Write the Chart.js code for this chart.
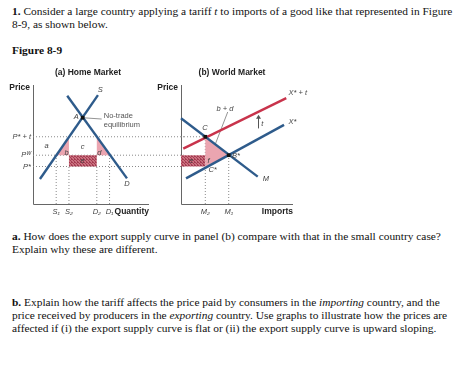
<!DOCTYPE html>
<html>
<head>
<meta charset="utf-8">
<script src="https://cdn.jsdelivr.net/npm/chart.js@4.4.1/dist/chart.umd.min.js"></script>
<style>
  body { margin: 0; width: 474px; height: 378px; background: #fff; position: relative; overflow: hidden;
         font-family: "Liberation Serif", "Times New Roman", serif; color: #111; }
  .ln { position: absolute; left: 12px; font-size: 11.4px; line-height: 13px; white-space: nowrap; }
  canvas { position: absolute; }
</style>
</head>
<body>
<div class="ln" style="top:5px"><b>1.</b> Consider a large country applying a tariff <i>t</i> to imports of a good like that represented in Figure</div>
<div class="ln" style="top:18px">8-9, as shown below.</div>
<div class="ln" style="top:44px"><b>Figure 8-9</b></div>

<canvas id="home" width="185" height="165" style="left:0;top:60px"></canvas>
<canvas id="world" width="170" height="165" style="left:150px;top:60px"></canvas>

<div class="ln" style="top:230px"><b>a.</b> How does the export supply curve in panel (b) compare with that in the small country case?</div>
<div class="ln" style="top:243px">Explain why these are different.</div>
<div class="ln" style="top:296px"><b>b.</b> Explain how the tariff affects the price paid by consumers in the <i>importing</i> country, and the</div>
<div class="ln" style="top:309px">price received by producers in the <i>exporting</i> country. Use graphs to illustrate how the prices are</div>
<div class="ln" style="top:322px">affected if (i) the export supply curve is flat or (ii) the export supply curve is upward sloping.</div>

<script>
// values, both axes in arbitrary units 0-10
const priceLevels = [3.15, 4.1, 5.65];            // P*, P^W, P* + t
const priceLabels = ['P*', 'Pᵂ', 'P* + t'];

// (a) home market
const homeQty = [2.0, 3.1, 5.5, 6.6];             // S1, S2, D2, D1
const homeQtyLabels = ['S₁', 'S₂', 'D₂', 'D₁'];
const homeSupply = [[0.6, 2.1], [5.6, 9.15]];
const homeDemand = [[2.95, 9.1], [8.1, 2.15]];
const noTrade = [4.28, 7.25];

// (b) world market
const importQty = [2.17, 4.26];                   // M2, M1
const importQtyLabels = ['M₂', 'M₁'];
const importDemand = [[0, 7.2], [6.85, 2.3]];
const exportSupply = [[0.45, 2.15], [9.2, 6.65]];
const exportSupplyTariff = [[0.2, 4.65], [9.4, 8.9]];

const BLUE = '#2e5b8b', RED = '#c8334b', PINK = '#eba5b0', GUIDE = '#8a8a8a';
const SANS = '"Liberation Sans", Arial, sans-serif';

const [pStar, pWorld, pTariff] = priceLevels;
const pts = arr => arr.map(([x, y]) => ({ x, y }));

function hatch() {
  const c = document.createElement('canvas');
  c.width = c.height = 3;
  const g = c.getContext('2d');
  g.fillStyle = '#c9707e';
  g.fillRect(0, 0, 3, 3);
  g.fillStyle = '#a53c52';
  g.fillRect(0, 0, 1, 1);
  g.fillRect(1, 1, 1, 1);
  g.fillRect(2, 2, 1, 1);
  g.fillRect(2, 0, 1, 1);
  return g.createPattern(c, 'repeat');
}

const line = (data, color, width, order) => ({
  data: pts(data), borderColor: color, borderWidth: width, pointRadius: 0, fill: false, order, clip: false
});
const guide = data => ({ ...line(data, GUIDE, 1, 20), borderDash: [1, 2] });
const area = (data, color, order) => ({
  data: pts([...data, data[0]]), borderWidth: 0, borderColor: 'transparent', backgroundColor: color,
  pointRadius: 0, fill: 'shape', order
});
const dot = (p, order) => ({
  data: pts([p]), pointRadius: 2.6, pointStyle: 'rect', pointBackgroundColor: '#111', pointBorderWidth: 0,
  showLine: false, order
});

// axes and all the lettering of a panel
const figureText = {
  id: 'figureText',
  beforeDatasetsDraw(chart, args, o) {
    const { ctx, scales: { x, y } } = chart;
    ctx.save();
    ctx.strokeStyle = '#666';
    ctx.lineWidth = 1;
    ctx.beginPath();
    const x0 = Math.round(x.getPixelForValue(0)) + 0.5, y0 = Math.round(y.getPixelForValue(0)) + 0.5;
    ctx.moveTo(x0, y.getPixelForValue(10));
    ctx.lineTo(x0, y0);
    ctx.lineTo(x.getPixelForValue(10), y0);
    ctx.stroke();
    ctx.restore();
  },
  afterDatasetsDraw(chart, args, o) {
    const { ctx, chartArea: a, scales: { x, y } } = chart;
    ctx.save();
    ctx.textBaseline = 'middle';
    // panel title and axis names
    ctx.fillStyle = '#222';
    ctx.font = 'bold 8.5px ' + SANS;
    ctx.textAlign = 'center';
    ctx.fillText(o.title, a.left + o.titleX, a.top - 12);
    ctx.textAlign = 'right';
    ctx.fillText('Price', a.left - 3, a.top + 3);
    ctx.fillText(o.xTitle, x.getPixelForValue(10), a.bottom + 8);
    // tick letters
    ctx.fillStyle = '#444';
    ctx.font = 'italic 7.5px ' + SANS;
    ctx.textAlign = 'center';
    o.ticks.forEach((v, i) => ctx.fillText(o.tickLabels[i], x.getPixelForValue(v), a.bottom + 8));
    if (o.priceAxis) {
      ctx.textAlign = 'right';
      priceLevels.forEach((v, i) => ctx.fillText(priceLabels[i], a.left - 2, y.getPixelForValue(v)));
    }
    // notes inside the plot
    o.notes.forEach(([text, vx, vy, align, font, color]) => {
      ctx.textAlign = align || 'center';
      ctx.font = (font || 'italic 7.5px') + ' ' + SANS;
      ctx.fillStyle = color || '#444';
      ctx.fillText(text, x.getPixelForValue(vx), y.getPixelForValue(vy));
    });
    // tariff arrow
    if (o.arrow) {
      const [ax, ay0, ay1] = o.arrow;
      const px = Math.round(x.getPixelForValue(ax)) + 0.5, py0 = y.getPixelForValue(ay0), py1 = y.getPixelForValue(ay1);
      ctx.strokeStyle = '#555';
      ctx.fillStyle = '#555';
      ctx.lineWidth = 1;
      ctx.beginPath();
      ctx.moveTo(px, py0); ctx.lineTo(px, py1 + 3); ctx.stroke();
      ctx.beginPath();
      ctx.moveTo(px, py1); ctx.lineTo(px - 2.5, py1 + 4); ctx.lineTo(px + 2.5, py1 + 4); ctx.closePath(); ctx.fill();
    }
    ctx.restore();
  }
};

function baseOptions(padding, text) {
  return {
    responsive: false,
    animation: false,
    events: [],
    layout: { padding },
    scales: {
      x: { type: 'linear', min: 0, max: 10, display: false },
      y: { type: 'linear', min: 0, max: 10, display: false }
    },
    elements: { line: { tension: 0 } },
    plugins: { legend: { display: false }, tooltip: { enabled: false }, figureText: text }
  };
}

// (a) Home Market
const [s1, s2, d2, d1] = homeQty;
new Chart(document.getElementById('home'), {
  type: 'line',
  plugins: [figureText],
  data: {
    datasets: [
      ...priceLevels.map(p => guide([[0, p], [13.3, p]])),
      guide([[s1, 0], [s1, pWorld]]),
      guide([[s2, 0], [s2, pStar]]),
      guide([[d2, 0], [d2, pStar]]),
      guide([[d1, 0], [d1, pWorld]]),
      area([[s1, pWorld], [s2, pWorld], [s2, pTariff]], PINK, 8),
      area([[d2, pTariff], [d2, pWorld], [d1, pWorld]], PINK, 8),
      area([[s2, pStar], [d2, pStar], [d2, pWorld], [s2, pWorld]], hatch(), 8),
      line(homeSupply, BLUE, 2.4, 2),
      line(homeDemand, BLUE, 2.4, 2),
      line([noTrade, [5.92, 7.14]], '#777', 0.8, 3),
      dot(noTrade, 0)
    ]
  },
  options: baseOptions({ left: 33, right: 36, top: 25, bottom: 21 }, {
    title: '(a) Home Market', titleX: 55, xTitle: 'Quantity', priceAxis: true,
    ticks: homeQty, tickLabels: homeQtyLabels,
    notes: [
      ['S', 5.8, 9.6], ['D', 8.1, 1.65], ['A', 3.95, 7.35, 'right'],
      ['No-trade', 6.1, 7.4, 'left', '7.5px', '#555'], ['equilibrium', 6.1, 6.65, 'left', '7.5px', '#555'],
      ['a', 1.18, 4.9], ['b', 2.9, 4.29], ['c', 4.28, 4.82], ['d', 5.72, 4.29], ['e', 4.28, 3.61]
    ]
  })
});

// (b) World Market
const [m2, m1] = importQty;
new Chart(document.getElementById('world'), {
  type: 'line',
  plugins: [figureText],
  data: {
    datasets: [
      guide([[0, pTariff], [m2, pTariff]]),
      guide([[m2, pWorld], [m1, pWorld]]),
      guide([[m2, 0], [m2, pTariff]]),
      guide([[m1, 0], [m1, pWorld]]),
      area([[m2, pTariff], [m1, pWorld], [m2, pStar]], PINK, 8),
      area([[0, pStar], [m2, pStar], [m2, pWorld], [0, pWorld]], hatch(), 8),
      line(importDemand, BLUE, 2.4, 2),
      line(exportSupply, BLUE, 2.4, 2),
      line(exportSupplyTariff, RED, 2.4, 2),
      line([[4.17, 7.73], [3.06, 5.02]], '#777', 0.8, 3),
      dot([m2, pTariff], 0),
      dot([m1, pWorld], 0)
    ]
  },
  options: baseOptions({ left: 31, right: 27, top: 25, bottom: 21 }, {
    title: '(b) World Market', titleX: 51, xTitle: 'Imports', priceAxis: false,
    ticks: importQty, tickLabels: importQtyLabels,
    arrow: [6.85, 6.35, 7.5],
    notes: [
      ['b + d', 3.93, 8.0], ['t', 7.25, 6.75], ['C', 2.14, 6.4], ['B*', 4.55, 4.03, 'left'],
      ['C*', 2.45, 2.86, 'left'], ['e', 0.9, 3.61], ['f', 2.45, 3.61], ['M', 7.3, 2.15, 'left'],
      ['X*', 9.6, 6.9, 'left'], ['X* + t', 9.6, 9.35, 'left']
    ]
  })
});
</script>
</body>
</html>
